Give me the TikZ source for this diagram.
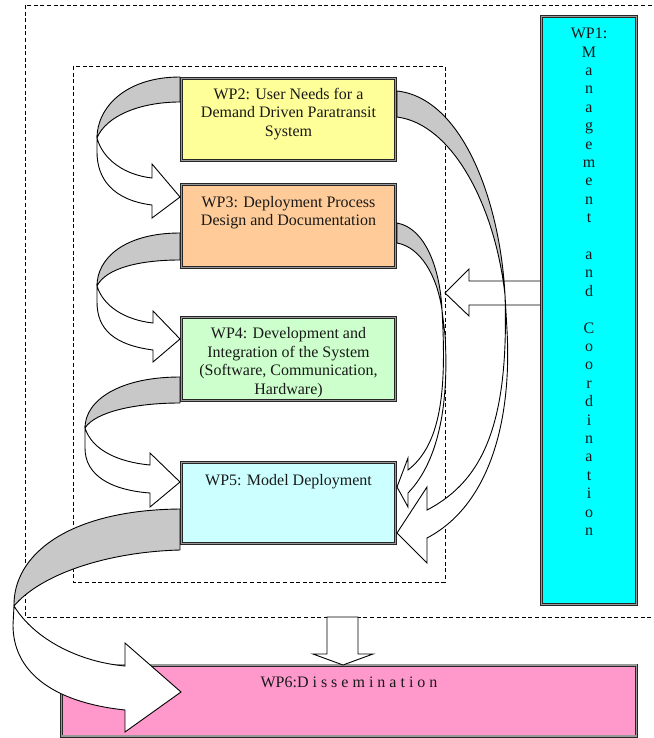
\documentclass[tikz,border=0pt]{standalone}
\usepackage{fontspec}
\setmainfont{Liberation Serif}
\definecolor{wpyellow}{HTML}{FFFF99}
\definecolor{wporange}{HTML}{FFCC99}
\definecolor{wpgreen}{HTML}{CCFFCC}
\definecolor{wplcyan}{HTML}{CCFFFF}
\definecolor{wpcyan}{HTML}{00FFFF}
\definecolor{wppink}{HTML}{FF99CC}
\definecolor{arcgray}{HTML}{C8C8C8}
\begin{document}
\begin{tikzpicture}[x=1pt,y=-1pt,
  wpbox/.style={rectangle, draw=black!85, line width=0.8pt, double=black!40, double distance=1.4pt, inner sep=0pt},
  wptext/.style={inner sep=0pt, align=center, font=\fontsize{16}{18.4}\selectfont, text=black!90},
  dashline/.style={draw=black, line width=0.9pt, dash pattern=on 4pt off 2.6pt},
  arcback/.style={fill=arcgray, draw=black, line width=0.9pt, line join=round},
  arcfront/.style={fill=white, draw=black, line width=0.9pt, line join=miter},
  blockarrow/.style={fill=white, draw=black, line width=0.9pt}]
\useasboundingbox (0,0) rectangle (653,738);
\clip (0,0) rectangle (653,738);

% dashed frames
\draw[dashline] (25,5) rectangle (680,617);
\draw[dashline] (73,66) rectangle (445,582);

% boxes
\node[wpbox, fill=wpyellow, minimum width=214pt, minimum height=82pt] (wp2) at (288.5,119.5) {};
\node[wpbox, fill=wporange, minimum width=214pt, minimum height=83pt] (wp3) at (288.5,226) {};
\node[wpbox, fill=wpgreen, minimum width=214pt, minimum height=83pt] (wp4) at (288.5,359) {};
\node[wpbox, fill=wplcyan, minimum width=214pt, minimum height=81pt] (wp5) at (288.5,503) {};
\node[wpbox, fill=wppink, minimum width=575pt, minimum height=71pt] (wp6) at (349,700.5) {};

% block arrows
\filldraw[blockarrow] (542,281) -- (469,281) -- (469,269) -- (445,293) -- (469,316) -- (469,305) -- (542,305) -- cycle;
\filldraw[blockarrow] (327,617) -- (358,617) -- (358,654) -- (373,654) -- (343,665) -- (313,654) -- (327,654) -- cycle;

\node[wpbox, fill=wpcyan, minimum width=95pt, minimum height=588pt] (wp1) at (589,310.5) {};

% left curved arrows
% WP2 -> WP3
\filldraw[arcback] (180,77) .. controls (125,77) and (97,108) .. (97,138) .. controls (106,116) and (140,102) .. (180,102) -- cycle;
\filldraw[arcfront] (97,138) .. controls (103,160) and (125,175) .. (152,178) -- (152,164) -- (180,197) -- (152,218) -- (152,205) .. controls (112,200) and (97,178) .. (97,152) -- cycle;
% WP3 -> WP4
\filldraw[arcback] (180,233) .. controls (125,233) and (97,258) .. (97,286) .. controls (106,268) and (140,260) .. (180,260) -- cycle;
\filldraw[arcfront] (97,286) .. controls (103,306) and (125,320) .. (153,323) -- (153,311) -- (180,339) -- (153,362) -- (153,350) .. controls (115,345) and (97,330) .. (97,302) -- cycle;
% WP4 -> WP5
\filldraw[arcback] (180,377) .. controls (120,377) and (85,400) .. (85,428) .. controls (95,412) and (135,403) .. (180,403) -- cycle;
\filldraw[arcfront] (85,428) .. controls (92,450) and (118,462) .. (150,465) -- (150,453) -- (180,482) -- (150,507) -- (150,493) .. controls (110,490) and (85,475) .. (85,448) -- cycle;
% WP5 -> WP6
\filldraw[arcback] (180,509) .. controls (68,510) and (13,555) .. (14,606) .. controls (40,575) and (105,552) .. (180,550) -- cycle;
\filldraw[arcfront] (14,606) .. controls (35,640) and (80,662) .. (125,666) -- (125,643) -- (181,692) -- (125,732) -- (125,710) .. controls (50,702) and (13,670) .. (13,625) -- cycle;

% right curved arrows
% WP2 -> WP5
\filldraw[arcback] (397,91) .. controls (462,98) and (500,200) .. (505,295) .. controls (495,205) and (452,124) .. (397,117) -- cycle;
\filldraw[arcfront] (505,295) .. controls (509,420) and (485,480) .. (427,510) -- (427,487) -- (397,533) -- (427,563) -- (427,538) .. controls (490,505) and (512,420) .. (507,330) -- cycle;
% WP3 -> WP5
\filldraw[arcback] (397,223) .. controls (425,228) and (440,268) .. (442,310) .. controls (437,275) and (420,247) .. (397,243) -- cycle;
\filldraw[arcfront] (442,310) .. controls (447,395) and (440,445) .. (408,470) -- (408,458) -- (397,487) -- (408,507) -- (408,493) .. controls (440,460) and (449,400) .. (445,335) -- cycle;

% texts
\node[wptext, anchor=north] (wp2t) at (288.5,88) {WP2: User Needs for a\\Demand Driven Paratransit\\System};
\node[wptext, anchor=north] (wp3t) at (288.5,196) {WP3: Deployment Process\\Design and Documentation};
\node[wptext, anchor=north] (wp4t) at (288.5,327.5) {WP4: Development and\\Integration of the System\\(Software, Communication,\\Hardware)};
\node[wptext, anchor=north] (wp5t) at (288.5,474) {WP5: Model Deployment};
\node[wptext, anchor=north] (wp6t) at (349,676.5) {WP6:D i s s e m i n a t i o n};
\node[wptext, anchor=north] (wp1t) at (589,28) {WP1:\\M\\a\\n\\a\\g\\e\\m\\e\\n\\t\\[18.4pt]a\\n\\d\\[18.4pt]C\\o\\o\\r\\d\\i\\n\\a\\t\\i\\o\\n};
\end{tikzpicture}
\end{document}
